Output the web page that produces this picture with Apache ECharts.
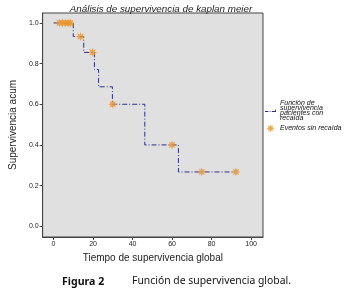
<!DOCTYPE html>
<html>
<head>
<meta charset="utf-8">
<script src="https://cdn.jsdelivr.net/npm/echarts@6/dist/echarts.min.js"></script>
<style>
  html, body { margin: 0; padding: 0; background: #fff; }
  #chart { width: 354px; height: 291px; }
</style>
</head>
<body>
<div id="chart"></div>
<script>
// curva de kaplan meier (escalones)
var stepTimes = [0, 10, 15.3, 20.7, 22.8, 29.8, 46.2, 63.2, 92];
var stepSurv = [1.0, 0.933, 0.855, 0.771, 0.686, 0.6, 0.4, 0.267, 0.267];

// eventos censurados (sin recaida)
var censTimes = [3, 4.5, 6, 7.5, 8.5, 13.7, 19.8, 30, 60, 75, 92.3];
var censSurv = [1.0, 1.0, 1.0, 1.0, 1.0, 0.933, 0.855, 0.6, 0.4, 0.267, 0.267];

var xTicks = [0, 20, 40, 60, 80, 100];
var yTicks = [0, 0.2, 0.4, 0.6, 0.8, 1.0];

var lineName = 'Función de\nsupervivencia\npacientes con\nrecaída';
var censName = 'Eventos sin recaída';

var starPath = 'path://M0,-10 L2,-4.8 L7.1,-7.1 L4.8,-2 L10,0 L4.8,2 L7.1,7.1 L2,4.8 L0,10 L-2,4.8 L-7.1,7.1 L-4.8,2 L-10,0 L-4.8,-2 L-7.1,-7.1 L-2,-4.8 Z';
var dashIcon = 'path://M0,4 H4 V5 H0 Z M5.5,4 H6.5 V5 H5.5 Z M8,4 H12 V5 H8 Z M12,2 H13 V5 H12 Z';

var chart = echarts.init(document.getElementById('chart'), null, { renderer: 'canvas' });

var options = {
  backgroundColor: '#fff',
  animation: false,
  textStyle: { fontFamily: 'Liberation Sans' },
  title: {
    text: 'Análisis de supervivencia de kaplan meier',
    left: 156,
    textAlign: 'center',
    top: -1,
    textStyle: { fontSize: 9.8, fontStyle: 'italic', fontWeight: 'normal', color: '#222' }
  },
  grid: {
    left: 40, right: 91, top: 13, bottom: 54,
    show: true,
    backgroundColor: '#e0e0e0',
    borderColor: '#444',
    borderWidth: 1
  },
  legend: {
    orient: 'vertical',
    left: 260,
    top: 95,
    itemWidth: 11,
    itemHeight: 8,
    itemGap: 3,
    textStyle: { fontSize: 7, fontStyle: 'italic', color: '#111', lineHeight: 4.8, padding: [0, 0, 0, -1] },
    data: [
      { name: lineName, icon: dashIcon, itemStyle: { color: '#2e2e8f' } },
      { name: censName }
    ]
  },
  xAxis: {
    type: 'value',
    min: -5.5, max: 106,
    name: 'Tiempo de supervivencia global',
    nameLocation: 'middle',
    nameGap: 16,
    nameTextStyle: { fontSize: 10, color: '#222' },
    splitLine: { show: false },
    axisLine: { show: true, onZero: false, lineStyle: { color: '#444' } },
    axisTick: { show: true, length: 3, customValues: xTicks, lineStyle: { color: '#444' } },
    axisLabel: { fontSize: 7, color: '#222', margin: 4, customValues: xTicks }
  },
  yAxis: {
    type: 'value',
    min: -0.053, max: 1.049,
    name: 'Supervivencia acum',
    nameLocation: 'middle',
    nameGap: 17,
    nameTextStyle: { fontSize: 10, color: '#222' },
    splitLine: { show: false },
    axisLine: { show: true, onZero: false, lineStyle: { color: '#444' } },
    axisTick: { show: true, length: 3, customValues: yTicks, lineStyle: { color: '#444' } },
    axisLabel: {
      fontSize: 7, color: '#222', margin: 4, customValues: yTicks,
      formatter: function (v) { return v.toFixed(1); }
    }
  },
  series: [
    {
      name: lineName,
      type: 'line',
      step: 'end',
      symbol: 'none',
      data: stepTimes.map(function (t, i) { return [t, stepSurv[i]]; }),
      lineStyle: { color: '#2e2e8f', width: 1, type: [5, 2, 1, 2] },
      itemStyle: { color: '#2e2e8f' }
    },
    {
      name: censName,
      type: 'scatter',
      symbol: starPath,
      symbolSize: 9,
      data: censTimes.map(function (t, i) { return [t, censSurv[i]]; }),
      itemStyle: { color: '#e8962e' },
      z: 3
    }
  ],
  graphic: [
    {
      type: 'text', left: 62, top: 276,
      style: { text: 'Figura 2', font: 'bold 10.6px "Noto Sans"', fill: '#111' }
    },
    {
      type: 'text', left: 132, top: 276,
      style: { text: 'Función de supervivencia global.', font: '10.4px "Noto Sans"', fill: '#111' }
    }
  ]
};

chart.setOption(options);
</script>
</body>
</html>
